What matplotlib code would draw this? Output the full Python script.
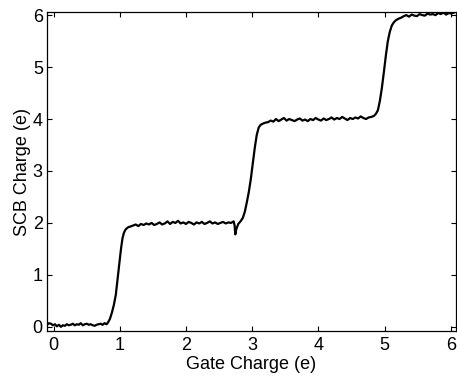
import matplotlib
matplotlib.use("Agg")
import matplotlib.pyplot as plt

# Gate charge (x) and SCB charge (y), by segment
x_flat0 = [-0.10, -0.07, -0.04, -0.01, 0.02, 0.05, 0.08, 0.11, 0.14, 0.17, 0.20, 0.23, 0.26,
           0.29, 0.32, 0.35, 0.38, 0.41, 0.44, 0.47, 0.50, 0.53, 0.56, 0.59, 0.62, 0.65,
           0.68, 0.71, 0.74, 0.77, 0.80]
y_flat0 = [0.04, 0.07, 0.06, 0.03, 0.05, 0.01, 0.04, 0.00, 0.03, 0.02, 0.05, 0.03, 0.04,
           0.06, 0.03, 0.05, 0.04, 0.07, 0.03, 0.05, 0.06, 0.04, 0.05, 0.03, 0.02, 0.04,
           0.05, 0.06, 0.04, 0.07, 0.05]

x_rise1 = [0.82, 0.85, 0.88, 0.91, 0.94, 0.96, 0.98, 1.00, 1.02, 1.04, 1.06, 1.08, 1.10, 1.13, 1.16]
y_rise1 = [0.08, 0.15, 0.27, 0.42, 0.62, 0.85, 1.08, 1.30, 1.52, 1.70, 1.80, 1.86, 1.89, 1.92, 1.93]

x_flat2 = [1.20, 1.24, 1.28, 1.32, 1.36, 1.40, 1.44, 1.48, 1.52, 1.56, 1.60, 1.64, 1.68,
           1.72, 1.76, 1.80, 1.84, 1.88, 1.92, 1.96, 2.00, 2.04, 2.08, 2.12, 2.16, 2.20,
           2.24, 2.28, 2.32, 2.36, 2.40, 2.44, 2.48, 2.52, 2.56, 2.60, 2.64, 2.68, 2.72]
y_flat2 = [1.95, 1.97, 1.94, 1.98, 1.96, 1.99, 1.97, 2.00, 1.96, 1.98, 2.01, 1.97, 1.99,
           2.03, 1.98, 2.02, 2.00, 2.04, 1.99, 2.01, 1.98, 2.02, 2.00, 1.97, 2.01, 1.99,
           2.02, 1.98, 2.00, 2.03, 1.99, 2.01, 1.98, 2.00, 2.02, 1.99, 2.01, 2.00, 2.03]

x_rise2 = [2.735, 2.745, 2.76, 2.79, 2.83, 2.86, 2.89, 2.92, 2.95, 2.98, 3.01, 3.04,
           3.07, 3.10, 3.13, 3.16, 3.20]
y_rise2 = [1.95, 1.78, 1.88, 1.98, 2.04, 2.10, 2.22, 2.40, 2.60, 2.85, 3.15, 3.45,
           3.70, 3.84, 3.89, 3.91, 3.93]

x_flat3 = [3.24, 3.28, 3.32, 3.36, 3.40, 3.44, 3.48, 3.52, 3.56, 3.60, 3.64, 3.68, 3.72,
           3.76, 3.80, 3.84, 3.88, 3.92, 3.96, 4.00, 4.04, 4.08, 4.12, 4.16, 4.20, 4.24,
           4.28, 4.32, 4.36, 4.40, 4.44, 4.48, 4.52, 4.56, 4.60, 4.64, 4.68, 4.72, 4.76, 4.80]
y_flat3 = [3.94, 3.97, 3.95, 4.00, 3.96, 3.99, 4.02, 3.97, 4.00, 3.98, 3.96, 3.99, 4.01,
           3.97, 3.99, 3.96, 4.00, 3.98, 4.02, 3.99, 3.97, 4.01, 3.98, 4.00, 4.03, 3.99,
           4.02, 4.00, 4.04, 4.01, 3.98, 4.02, 4.00, 4.03, 4.01, 4.05, 4.02, 4.00, 4.03, 4.04]

x_rise3 = [4.84, 4.87, 4.90, 4.93, 4.96, 4.99, 5.02, 5.05, 5.08, 5.11, 5.14, 5.17, 5.21]
y_rise3 = [4.06, 4.10, 4.17, 4.35, 4.60, 4.90, 5.22, 5.50, 5.68, 5.80, 5.86, 5.90, 5.93]

x_flat4 = [5.25, 5.29, 5.33, 5.37, 5.41, 5.45, 5.49, 5.53, 5.57, 5.61, 5.65, 5.69, 5.73,
           5.77, 5.81, 5.85, 5.89, 5.93, 5.97, 6.01, 6.07]
y_flat4 = [5.95, 5.98, 6.00, 5.97, 6.01, 5.99, 5.98, 6.02, 6.00, 5.99, 6.03, 6.01, 6.02,
           6.00, 6.04, 6.02, 6.05, 6.01, 6.04, 6.03, 6.06]

x_ticks = [0, 1, 2, 3, 4, 5, 6]
y_ticks = [0, 1, 2, 3, 4, 5, 6]

gate = x_flat0 + x_rise1 + x_flat2 + x_rise2 + x_flat3 + x_rise3 + x_flat4
scb = y_flat0 + y_rise1 + y_flat2 + y_rise2 + y_flat3 + y_rise3 + y_flat4

plt.rcParams['font.family'] = ['Liberation Sans', 'DejaVu Sans']

fig = plt.figure(figsize=(4.57, 3.81), dpi=100)
ax = fig.add_axes([47 / 457, 50 / 381, 409 / 457, 319 / 381])
ax.plot(gate, scb, color='black', linewidth=1.6)
ax.set_xlim(-0.10, 6.08)
ax.set_ylim(-0.08, 6.06)
ax.set_xticks(x_ticks)
ax.set_yticks(y_ticks)
ax.tick_params(direction='in', length=3.5, width=0.8, top=True, right=True,
               labelsize=13, pad=3)
ax.tick_params(axis='x', pad=4)
for s in ax.spines.values():
    s.set_linewidth(0.9)
ax.set_xlabel('Gate Charge (e)', fontsize=13, labelpad=2)
ax.set_ylabel('SCB Charge (e)', fontsize=13, labelpad=1)

fig.savefig('out.png', dpi=100)
